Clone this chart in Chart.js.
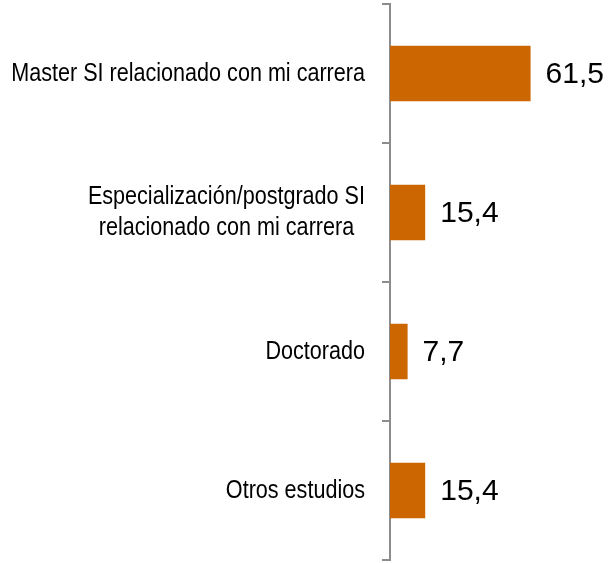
<!DOCTYPE html>
<html>
<head>
<meta charset="utf-8">
<script src="https://cdn.jsdelivr.net/npm/chart.js@4"></script>
<style>
  html, body { margin: 0; padding: 0; background: #fff; }
  #wrap { width: 616px; height: 563px; }
</style>
</head>
<body>
<div id="wrap"><canvas id="bars" width="616" height="563"></canvas></div>
<script>
const categories = [
    ['Master SI relacionado con mi carrera'],
    ['Especialización/postgrado SI', 'relacionado con mi carrera'],
    ['Doctorado'],
    ['Otros estudios']
];
const values = [61.5, 15.4, 7.7, 15.4];
const xMax = 70;

const labelFont = "26px 'Liberation Sans', Arial, sans-serif";
const valueFont = "30px 'Liberation Sans', Arial, sans-serif";
const narrow = 0.83; // no Arial Narrow installed, squeeze the regular face instead

// category names drawn by hand so that multi-line labels are centred line by line
const catLabels = {
    id: 'catLabels',
    afterDraw(chart) {
        const c = chart.ctx;
        const y = chart.scales.y;
        const right = chart.chartArea.left - 25;
        c.save();
        c.font = labelFont;
        c.fillStyle = '#000';
        c.textBaseline = 'middle';
        c.textAlign = 'center';
        categories.forEach((lines, i) => {
            const widest = Math.max(...lines.map(l => c.measureText(l).width)) * narrow;
            const cx = right - widest / 2;
            const cy = y.getPixelForValue(i);
            const lh = 31;
            lines.forEach((l, j) => {
                c.save();
                c.translate(cx, cy + (j - (lines.length - 1) / 2) * lh);
                c.scale(narrow, 1);
                c.fillText(l, 0, 0);
                c.restore();
            });
        });
        c.restore();
    }
};

const valueLabels = {
    id: 'valueLabels',
    afterDatasetsDraw(chart) {
        const c = chart.ctx;
        const meta = chart.getDatasetMeta(0);
        c.save();
        c.font = valueFont;
        c.fillStyle = '#000';
        c.textBaseline = 'middle';
        c.textAlign = 'left';
        meta.data.forEach((bar, i) => {
            c.fillText(values[i].toFixed(1).replace('.', ','), bar.x + 15, bar.y + 1);
        });
        c.restore();
    }
};

const ctx = document.getElementById('bars').getContext('2d');
const chart = new Chart(ctx, {
    type: 'bar',
    data: {
        labels: categories,
        datasets: [{
            data: values,
            backgroundColor: '#CC6600',
            borderWidth: 0,
            categoryPercentage: 1,
            barPercentage: 0.4
        }]
    },
    options: {
        indexAxis: 'y',
        responsive: false,
        animation: false,
        layout: { padding: { left: 382, right: 66, top: 4, bottom: 3 } },
        plugins: {
            legend: { display: false },
            tooltip: { enabled: false }
        },
        scales: {
            x: { display: false, min: 0, max: xMax },
            y: {
                ticks: { display: false },
                grid: {
                    drawOnChartArea: false,
                    drawTicks: true,
                    tickLength: 8,
                    color: '#8c8c8c',
                    lineWidth: 2
                },
                border: { color: '#8c8c8c', width: 2 }
            }
        }
    },
    plugins: [catLabels, valueLabels]
});
</script>
</body>
</html>
